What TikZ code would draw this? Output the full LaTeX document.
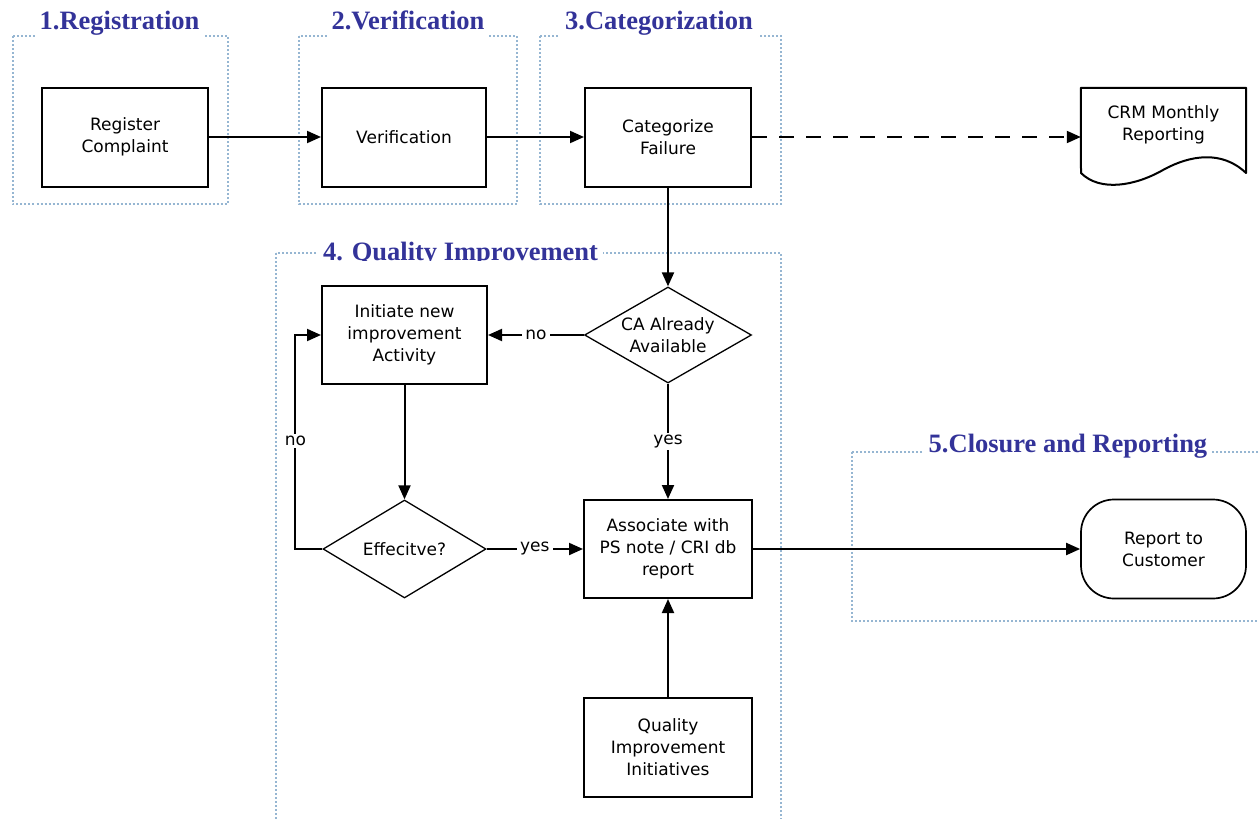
\documentclass[tikz,border=0pt]{standalone}
\usepackage{fontspec}
\setmainfont{Liberation Serif}
\newfontfamily\flowfont{DejaVu Sans}
\usetikzlibrary{arrows.meta,shapes.geometric,calc}
\definecolor{titleblue}{RGB}{51,51,153}
\definecolor{framecol}{RGB}{150,182,210}
\newcommand\flowtext{\flowfont\fontsize{17}{22}\selectfont}
\newcommand\stagefont{\bfseries\fontsize{26.5}{30}\selectfont}
\begin{document}
\begin{tikzpicture}[x=1pt,y=-1pt,
  proc/.style={draw, line width=2pt, minimum width=166pt, minimum height=99pt,
    align=center, font=\flowtext, inner sep=2pt},
  dec/.style={draw, diamond, line width=1.3pt, inner sep=0pt, aspect=1.7,
    minimum width=165pt, minimum height=97pt, align=center, font=\flowtext},
  term/.style={draw, line width=1.7pt, rounded corners=33pt, minimum width=165pt,
    minimum height=99pt, align=center, font=\flowtext},
  arr/.style={-{Triangle[length=14pt,width=12pt]}, line width=2pt},
  lbl/.style={fill=white, inner xsep=3pt, inner ysep=2pt, font=\flowtext},
  frame/.style={draw=framecol, line width=2pt, dash pattern=on 2pt off 2pt},
  stage/.style={font=\stagefont, text=titleblue, fill=white, inner xsep=5pt,
    inner ysep=3pt, text depth=6pt, anchor=base}]

\clip (0,0) rectangle (1259,819);

% dotted stage frames
\draw[frame] (12.5,36) rectangle (227.5,204);
\draw[frame] (299,36) rectangle (517,204);
\draw[frame] (540,36) rectangle (781,204);
\draw[frame] (276,253) rectangle (781,840);
\draw[frame] (852,452) rectangle (1290,621);

% stage titles
\node[stage] (t1) at (119.5,30) {1.Registration};
\node[stage] (t2) at (408,30) {2.Verification};
\node[stage] (t3) at (659,30) {3.Categorization};
\begin{scope}
  \clip (300,225) rectangle (620,260);
  \node[stage] (t4) at (460.5,260.5) {4. Quality Improvement};
\end{scope}
\node[stage] (t5) at (1068,452.5) {5.Closure and Reporting};

% process steps
\node[proc] (reg) at (125,137) {Register\\Complaint};
\node[proc, minimum width=164pt] (ver) at (404,137) {Verification};
\node[proc] (cat) at (668,137) {Categorize\\Failure};
\node[proc, minimum width=165pt, minimum height=98pt] (init) at (404.5,335) {Initiate new\\improvement\\Activity};
\node[dec, minimum width=167pt, minimum height=96pt] (ca) at (668,335) {CA Already\\Available};
\node[dec, minimum width=163pt, minimum height=98pt] (eff) at (404.5,549) {Effecitve?};
\node[proc, minimum width=168pt, minimum height=98pt] (assoc) at (668,549) {Associate with\\PS note / CRI db\\report};
\node[proc, minimum width=168pt] (qii) at (668,747.5) {Quality\\Improvement\\Initiatives};
\node[term] (rtc) at (1163.5,549) {Report to\\Customer};

% monthly report document
\node[minimum width=165pt, minimum height=98pt, inner sep=0pt] (crm) at (1163.5,137) {};
\draw[line width=2pt, line join=round]
  (crm.north west) -- (crm.north east) -- (1246,173)
  .. controls (1222,150) and (1190,155) .. (1163,170)
  .. controls (1135,186) and (1100,192) .. (1081,173) -- cycle;
\node[font=\flowtext, align=center] (crmtxt) at (1163.5,125) {CRM Monthly\\Reporting};

% connectors
\draw[arr] (reg.east) -- (ver.west);
\draw[arr] (ver.east) -- (cat.west);
\draw[arr, dash pattern=on 15pt off 12pt] (cat.east) -- (crm.west);
\draw[arr] (cat.south) -- (ca.north);
\draw[arr] (ca.west) -- node[lbl] {no} (init.east);
\draw[arr] (init.south) -- (eff.north);
\draw[arr] (ca.south) -- node[lbl] {yes} (assoc.north);
\draw[arr] (eff.east) -- node[lbl] {yes} (assoc.west);
\draw[arr] (eff.west) -- ++(-27,0) coordinate (lpb)
  -- (lpb |- init.west) coordinate (lpt) -- (init.west);
\node[lbl] (nolp) at ($(lpb)!0.5!(lpt)+(0,-1)$) {no};
\draw[arr] (qii.north) -- (assoc.south);
\draw[arr] (assoc.east) -- (rtc.west);
\end{tikzpicture}
\end{document}
